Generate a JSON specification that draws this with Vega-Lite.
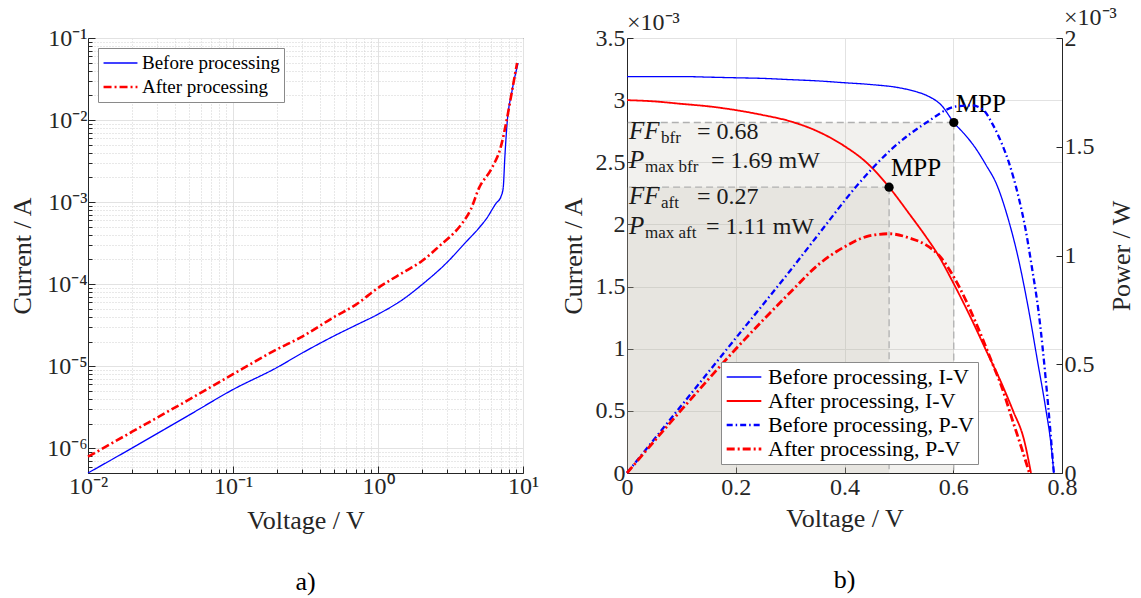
{
  "$schema": "https://vega.github.io/schema/vega-lite/v6.json",
  "background": "white",
  "padding": {"top": 5, "left": 9, "right": 2, "bottom": 2},
  "bounds": "flush",
  "spacing": 104,
  "resolve": {"scale": {"color": "independent", "strokeDash": "independent", "strokeWidth": "independent"}},
  "config": {
    "font": "Liberation Serif",
    "style": {
      "guide-label": {"font": "Liberation Serif"},
      "guide-title": {"font": "Liberation Serif", "fontWeight": "normal"},
      "group-title": {"font": "Liberation Serif", "fontWeight": "normal"}
    },
    "view": {"stroke": "#262626", "strokeWidth": 1},
    "axis": {
      "domainColor": "#262626", "tickColor": "#262626", "labelColor": "#262626", "titleColor": "#262626",
      "labelFont": "Liberation Serif", "titleFont": "Liberation Serif", "labelFontSize": 24, "titleFontSize": 26,
      "titleFontWeight": "normal", "gridColor": "#e2e2e2", "gridWidth": 1, "tickSize": -6, "labelPadding": 8,
      "labelOverlap": false, "labelFlush": false, "labelBound": false
    },
    "axisX": {"titlePadding": 6, "labelFont": "Liberation Serif", "titleFont": "Liberation Serif"},
    "axisY": {"labelFont": "Liberation Serif", "titleFont": "Liberation Serif"},
    "legend": {"labelFont": "Liberation Serif", "labelColor": "#000000", "fillColor": "white", "strokeColor": "#8a8a8a", "cornerRadius": 0, "symbolType": "stroke", "labelLimit": 400, "clipHeight": 22, "rowPadding": 2},
    "title": {"font": "Liberation Serif", "fontSize": 26, "fontWeight": "normal", "color": "#000000", "orient": "bottom", "anchor": "middle", "offset": 36}
  },
  "datasets": {
    "logiv": [
      {"series": "Before processing", "V": 0.01, "I": 5.0e-7},
      {"series": "Before processing", "V": 0.02, "I": 1.0e-6},
      {"series": "Before processing", "V": 0.05, "I": 2.55e-6},
      {"series": "Before processing", "V": 0.1, "I": 5.2e-6},
      {"series": "Before processing", "V": 0.2, "I": 9.6e-6},
      {"series": "Before processing", "V": 0.3, "I": 1.45e-5},
      {"series": "Before processing", "V": 0.5, "I": 2.35e-5},
      {"series": "Before processing", "V": 0.7, "I": 3.15e-5},
      {"series": "Before processing", "V": 1.0, "I": 4.3e-5},
      {"series": "Before processing", "V": 1.5, "I": 6.6e-5},
      {"series": "Before processing", "V": 2.0, "I": 9.8e-5},
      {"series": "Before processing", "V": 3.0, "I": 1.85e-4},
      {"series": "Before processing", "V": 4.0, "I": 3.2e-4},
      {"series": "Before processing", "V": 5.0, "I": 4.9e-4},
      {"series": "Before processing", "V": 5.6, "I": 6.3e-4},
      {"series": "Before processing", "V": 6.5, "I": 9.6e-4},
      {"series": "Before processing", "V": 7.05, "I": 1.17e-3},
      {"series": "Before processing", "V": 7.3, "I": 1.48e-3},
      {"series": "Before processing", "V": 7.5, "I": 3.6e-3},
      {"series": "Before processing", "V": 7.76, "I": 8.9e-3},
      {"series": "Before processing", "V": 8.4, "I": 2.26e-2},
      {"series": "Before processing", "V": 9.25, "I": 4.95e-2},
      {"series": "After processing", "V": 0.01, "I": 7.9e-7},
      {"series": "After processing", "V": 0.02, "I": 1.58e-6},
      {"series": "After processing", "V": 0.05, "I": 3.95e-6},
      {"series": "After processing", "V": 0.1, "I": 8.0e-6},
      {"series": "After processing", "V": 0.2, "I": 1.6e-5},
      {"series": "After processing", "V": 0.3, "I": 2.3e-5},
      {"series": "After processing", "V": 0.5, "I": 4.0e-5},
      {"series": "After processing", "V": 0.7, "I": 5.6e-5},
      {"series": "After processing", "V": 1.0, "I": 9.0e-5},
      {"series": "After processing", "V": 1.5, "I": 1.4e-4},
      {"series": "After processing", "V": 2.0, "I": 1.9e-4},
      {"series": "After processing", "V": 2.76, "I": 3.1e-4},
      {"series": "After processing", "V": 3.1, "I": 3.7e-4},
      {"series": "After processing", "V": 3.8, "I": 5.5e-4},
      {"series": "After processing", "V": 4.37, "I": 8.2e-4},
      {"series": "After processing", "V": 4.97, "I": 1.48e-3},
      {"series": "After processing", "V": 6.1, "I": 2.6e-3},
      {"series": "After processing", "V": 7.05, "I": 4.8e-3},
      {"series": "After processing", "V": 7.76, "I": 1.05e-2},
      {"series": "After processing", "V": 8.4, "I": 2.26e-2},
      {"series": "After processing", "V": 9.1, "I": 4.95e-2}
    ],
    "iv": [
      {"series": "Before processing, I-V", "V": 0, "I": 3.19},
      {"series": "Before processing, I-V", "V": 0.05, "I": 3.19},
      {"series": "Before processing, I-V", "V": 0.1, "I": 3.19},
      {"series": "Before processing, I-V", "V": 0.15, "I": 3.185},
      {"series": "Before processing, I-V", "V": 0.2, "I": 3.18},
      {"series": "Before processing, I-V", "V": 0.25, "I": 3.175},
      {"series": "Before processing, I-V", "V": 0.3, "I": 3.165},
      {"series": "Before processing, I-V", "V": 0.35, "I": 3.155},
      {"series": "Before processing, I-V", "V": 0.4, "I": 3.14},
      {"series": "Before processing, I-V", "V": 0.45, "I": 3.125},
      {"series": "Before processing, I-V", "V": 0.5, "I": 3.1},
      {"series": "Before processing, I-V", "V": 0.53, "I": 3.07},
      {"series": "Before processing, I-V", "V": 0.55, "I": 3.04},
      {"series": "Before processing, I-V", "V": 0.58, "I": 2.95},
      {"series": "Before processing, I-V", "V": 0.601, "I": 2.82},
      {"series": "Before processing, I-V", "V": 0.62, "I": 2.73},
      {"series": "Before processing, I-V", "V": 0.64, "I": 2.62},
      {"series": "Before processing, I-V", "V": 0.66, "I": 2.48},
      {"series": "Before processing, I-V", "V": 0.68, "I": 2.32},
      {"series": "Before processing, I-V", "V": 0.7, "I": 2.06},
      {"series": "Before processing, I-V", "V": 0.72, "I": 1.72},
      {"series": "Before processing, I-V", "V": 0.74, "I": 1.28},
      {"series": "Before processing, I-V", "V": 0.755, "I": 0.9},
      {"series": "Before processing, I-V", "V": 0.77, "I": 0.52},
      {"series": "Before processing, I-V", "V": 0.78, "I": 0.22},
      {"series": "Before processing, I-V", "V": 0.785, "I": 0},
      {"series": "After processing, I-V", "V": 0, "I": 3.0},
      {"series": "After processing, I-V", "V": 0.05, "I": 2.99},
      {"series": "After processing, I-V", "V": 0.1, "I": 2.97},
      {"series": "After processing, I-V", "V": 0.15, "I": 2.95},
      {"series": "After processing, I-V", "V": 0.2, "I": 2.92},
      {"series": "After processing, I-V", "V": 0.25, "I": 2.88},
      {"series": "After processing, I-V", "V": 0.3, "I": 2.83},
      {"series": "After processing, I-V", "V": 0.35, "I": 2.75},
      {"series": "After processing, I-V", "V": 0.4, "I": 2.63},
      {"series": "After processing, I-V", "V": 0.44, "I": 2.5},
      {"series": "After processing, I-V", "V": 0.482, "I": 2.3},
      {"series": "After processing, I-V", "V": 0.52, "I": 2.08},
      {"series": "After processing, I-V", "V": 0.55, "I": 1.9},
      {"series": "After processing, I-V", "V": 0.57, "I": 1.77},
      {"series": "After processing, I-V", "V": 0.6, "I": 1.53},
      {"series": "After processing, I-V", "V": 0.63, "I": 1.27},
      {"series": "After processing, I-V", "V": 0.66, "I": 0.99},
      {"series": "After processing, I-V", "V": 0.69, "I": 0.71},
      {"series": "After processing, I-V", "V": 0.71, "I": 0.5},
      {"series": "After processing, I-V", "V": 0.73, "I": 0.27},
      {"series": "After processing, I-V", "V": 0.743, "I": 0}
    ],
    "pv": [
      {"series": "Before processing, P-V", "V": 0, "P": 0},
      {"series": "Before processing, P-V", "V": 0.1, "P": 0.31},
      {"series": "Before processing, P-V", "V": 0.2, "P": 0.62},
      {"series": "Before processing, P-V", "V": 0.3, "P": 0.93},
      {"series": "Before processing, P-V", "V": 0.353, "P": 1.1},
      {"series": "Before processing, P-V", "V": 0.426, "P": 1.33},
      {"series": "Before processing, P-V", "V": 0.487, "P": 1.49},
      {"series": "Before processing, P-V", "V": 0.55, "P": 1.61},
      {"series": "Before processing, P-V", "V": 0.605, "P": 1.685},
      {"series": "Before processing, P-V", "V": 0.634, "P": 1.69},
      {"series": "Before processing, P-V", "V": 0.655, "P": 1.67},
      {"series": "Before processing, P-V", "V": 0.671, "P": 1.61},
      {"series": "Before processing, P-V", "V": 0.69, "P": 1.51},
      {"series": "Before processing, P-V", "V": 0.702, "P": 1.43},
      {"series": "Before processing, P-V", "V": 0.72, "P": 1.27},
      {"series": "Before processing, P-V", "V": 0.733, "P": 1.12},
      {"series": "Before processing, P-V", "V": 0.745, "P": 0.94},
      {"series": "Before processing, P-V", "V": 0.757, "P": 0.74},
      {"series": "Before processing, P-V", "V": 0.772, "P": 0.38},
      {"series": "Before processing, P-V", "V": 0.785, "P": 0},
      {"series": "After processing, P-V", "V": 0, "P": 0},
      {"series": "After processing, P-V", "V": 0.1, "P": 0.29},
      {"series": "After processing, P-V", "V": 0.2, "P": 0.57},
      {"series": "After processing, P-V", "V": 0.3, "P": 0.83},
      {"series": "After processing, P-V", "V": 0.353, "P": 0.96},
      {"series": "After processing, P-V", "V": 0.4, "P": 1.04},
      {"series": "After processing, P-V", "V": 0.445, "P": 1.09},
      {"series": "After processing, P-V", "V": 0.482, "P": 1.1},
      {"series": "After processing, P-V", "V": 0.52, "P": 1.08},
      {"series": "After processing, P-V", "V": 0.549, "P": 1.05},
      {"series": "After processing, P-V", "V": 0.574, "P": 1.0},
      {"series": "After processing, P-V", "V": 0.61, "P": 0.86},
      {"series": "After processing, P-V", "V": 0.64, "P": 0.7},
      {"series": "After processing, P-V", "V": 0.671, "P": 0.51},
      {"series": "After processing, P-V", "V": 0.69, "P": 0.39},
      {"series": "After processing, P-V", "V": 0.708, "P": 0.25},
      {"series": "After processing, P-V", "V": 0.725, "P": 0.12},
      {"series": "After processing, P-V", "V": 0.74, "P": 0}
    ],
    "mpp": [
      {"V": 0.601, "I": 2.82},
      {"V": 0.482, "I": 2.3}
    ],
    "notes": [
      {"V": 0, "I": 2.69, "main": "FF", "sub": "bfr", "rest": "= 0.68", "kind": "FF"},
      {"V": 0, "I": 2.455, "main": "P", "sub": "max bfr", "rest": "= 1.69 mW", "kind": "P1"},
      {"V": 0, "I": 2.165, "main": "FF", "sub": "aft", "rest": "= 0.27", "kind": "FF"},
      {"V": 0, "I": 1.925, "main": "P", "sub": "max aft", "rest": "= 1.11 mW", "kind": "P2"}
    ],
    "cornerI": [{"V": 0, "I": 3.5, "label": "×10⁻³"}],
    "cornerP": [{"V": 0.8, "P": 2, "label": "×10⁻³"}]
  },
  "hconcat": [
    {
      "width": 435,
      "height": 435,
      "title": {"text": "a)"},
      "data": {"name": "logiv"},
      "mark": {"type": "line", "interpolate": "monotone"},
      "encoding": {
        "x": {
          "field": "V", "type": "quantitative",
          "scale": {"type": "log", "domain": [0.01, 10], "nice": false},
          "axis": {
            "title": "Voltage / V",
            "values": [0.01,0.02,0.03,0.04,0.05,0.06,0.07,0.08,0.09,0.1,0.2,0.3,0.4,0.5,0.6,0.7,0.8,0.9,1,2,3,4,5,6,7,8,9,10],
            "labelExpr": "abs(log(datum.value)/LN10 - round(log(datum.value)/LN10)) < 0.001 ? '10' + (round(log(datum.value)/LN10) < 0 ? '⁻' : '') + ['⁰','¹','²','³','⁴','⁵','⁶','⁷','⁸','⁹'][abs(round(log(datum.value)/LN10))] : ''",
            "grid": true,
            "gridDash": {"condition": {"test": "abs(log(datum.value)/LN10 - round(log(datum.value)/LN10)) < 0.001", "value": []}, "value": [1, 2]},
            "gridColor": {"condition": {"test": "abs(log(datum.value)/LN10 - round(log(datum.value)/LN10)) < 0.001", "value": "#e2e2e2"}, "value": "#d0d0d0"},
            "tickSize": {"condition": {"test": "abs(log(datum.value)/LN10 - round(log(datum.value)/LN10)) < 0.001", "value": -7}, "value": -4}
          }
        },
        "y": {
          "field": "I", "type": "quantitative",
          "scale": {"type": "log", "domain": [5e-7, 0.1], "nice": false},
          "axis": {
            "title": "Current / A",
            "titlePadding": 11,
            "values": [5e-7,6e-7,7e-7,8e-7,9e-7,1e-6,2e-6,3e-6,4e-6,5e-6,6e-6,7e-6,8e-6,9e-6,1e-5,2e-5,3e-5,4e-5,5e-5,6e-5,7e-5,8e-5,9e-5,1e-4,2e-4,3e-4,4e-4,5e-4,6e-4,7e-4,8e-4,9e-4,1e-3,2e-3,3e-3,4e-3,5e-3,6e-3,7e-3,8e-3,9e-3,1e-2,2e-2,3e-2,4e-2,5e-2,6e-2,7e-2,8e-2,9e-2,0.1],
            "labelExpr": "abs(log(datum.value)/LN10 - round(log(datum.value)/LN10)) < 0.001 ? '10' + (round(log(datum.value)/LN10) < 0 ? '⁻' : '') + ['⁰','¹','²','³','⁴','⁵','⁶','⁷','⁸','⁹'][abs(round(log(datum.value)/LN10))] : ''",
            "grid": true,
            "gridDash": {"condition": {"test": "abs(log(datum.value)/LN10 - round(log(datum.value)/LN10)) < 0.001", "value": []}, "value": [1, 2]},
            "gridColor": {"condition": {"test": "abs(log(datum.value)/LN10 - round(log(datum.value)/LN10)) < 0.001", "value": "#e2e2e2"}, "value": "#d0d0d0"},
            "tickSize": {"condition": {"test": "abs(log(datum.value)/LN10 - round(log(datum.value)/LN10)) < 0.001", "value": -7}, "value": -4}
          }
        },
        "color": {
          "field": "series", "type": "nominal",
          "scale": {"domain": ["Before processing", "After processing"], "range": ["#0000ff", "#ff0000"]},
          "legend": {"title": null, "orient": "top-left", "offset": 10, "padding": 4, "symbolSize": 1150, "labelFontSize": 19, "labelOffset": 3}
        },
        "strokeDash": {
          "field": "series", "type": "nominal",
          "scale": {"domain": ["Before processing", "After processing"], "range": [[1, 0], [8, 3, 2, 3]]}
        },
        "strokeWidth": {
          "field": "series", "type": "nominal",
          "scale": {"domain": ["Before processing", "After processing"], "range": [1.3, 2.6]}
        }
      }
    },
    {
      "width": 435,
      "height": 435,
      "title": {"text": "b)"},
      "layer": [
        {
          "encoding": {
            "x": {"field": "V", "type": "quantitative", "scale": {"domain": [0, 0.8], "nice": false},
                  "axis": {"title": "Voltage / V", "values": [0, 0.2, 0.4, 0.6, 0.8], "format": "~g", "grid": true}},
            "y": {"field": "I", "type": "quantitative", "scale": {"domain": [0, 3.5], "nice": false},
                  "axis": {"title": "Current / A", "titlePadding": 9, "orient": "left", "values": [0, 0.5, 1, 1.5, 2, 2.5, 3, 3.5], "format": "~g", "grid": true}}
          },
          "layer": [
            {"data": {"name": "mpp"}, "mark": {"type": "rect", "fill": "#b8b0a0", "opacity": 0.18}, "encoding": {"x2": {"datum": 0}, "y2": {"datum": 0}}},
            {"data": {"name": "mpp"}, "mark": {"type": "rule", "stroke": "#b0b0b0", "strokeDash": [7, 4], "strokeWidth": 1.3}, "encoding": {"x2": {"datum": 0}}},
            {"data": {"name": "mpp"}, "mark": {"type": "rule", "stroke": "#b0b0b0", "strokeDash": [7, 4], "strokeWidth": 1.3}, "encoding": {"y2": {"datum": 0}}},
            {
              "data": {"name": "iv"},
              "mark": {"type": "line", "interpolate": "monotone"},
              "encoding": {
                "color": {"field": "series", "type": "nominal",
                  "scale": {"domain": ["Before processing, I-V", "After processing, I-V", "Before processing, P-V", "After processing, P-V"], "range": ["#0000ff", "#ff0000", "#0000ff", "#ff0000"]},
                  "legend": {"title": null, "orient": "none", "legendX": 94, "legendY": 324, "padding": 4, "symbolSize": 1200, "labelFontSize": 22, "labelOffset": 5}},
                "strokeDash": {"field": "series", "type": "nominal",
                  "scale": {"domain": ["Before processing, I-V", "After processing, I-V", "Before processing, P-V", "After processing, P-V"], "range": [[1, 0], [1, 0], [6, 3, 1.5, 3], [8, 3, 2, 3]]}},
                "strokeWidth": {"field": "series", "type": "nominal",
                  "scale": {"domain": ["Before processing, I-V", "After processing, I-V", "Before processing, P-V", "After processing, P-V"], "range": [1.3, 2.8, 1.2, 2.8]}}
              }
            },
            {"data": {"name": "mpp"}, "mark": {"type": "point", "filled": true, "color": "#000000", "opacity": 1, "size": 85}},
            {"data": {"name": "mpp"}, "mark": {"type": "text", "text": "MPP", "fontSize": 25, "align": "left", "baseline": "alphabetic", "dx": 2, "dy": -11, "color": "#000000"}},
            {"data": {"name": "notes"}, "mark": {"type": "text", "fontSize": 25, "fontStyle": "italic", "align": "left", "baseline": "alphabetic", "dx": 2, "color": "#1a1a1a"}, "encoding": {"text": {"field": "main"}}},
            {"data": {"name": "notes"}, "transform": [{"filter": "datum.kind == 'FF'"}], "mark": {"type": "text", "fontSize": 17, "align": "left", "baseline": "alphabetic", "dx": 34, "dy": 4, "color": "#1a1a1a"}, "encoding": {"text": {"field": "sub"}}},
            {"data": {"name": "notes"}, "transform": [{"filter": "datum.kind != 'FF'"}], "mark": {"type": "text", "fontSize": 17, "align": "left", "baseline": "alphabetic", "dx": 18, "dy": 4, "color": "#1a1a1a"}, "encoding": {"text": {"field": "sub"}}},
            {"data": {"name": "notes"}, "transform": [{"filter": "datum.kind == 'FF'"}], "mark": {"type": "text", "fontSize": 24, "align": "left", "baseline": "alphabetic", "dx": 70, "color": "#1a1a1a"}, "encoding": {"text": {"field": "rest"}}},
            {"data": {"name": "notes"}, "transform": [{"filter": "datum.kind == 'P1'"}], "mark": {"type": "text", "fontSize": 24, "align": "left", "baseline": "alphabetic", "dx": 84, "color": "#1a1a1a"}, "encoding": {"text": {"field": "rest"}}},
            {"data": {"name": "notes"}, "transform": [{"filter": "datum.kind == 'P2'"}], "mark": {"type": "text", "fontSize": 24, "align": "left", "baseline": "alphabetic", "dx": 79, "color": "#1a1a1a"}, "encoding": {"text": {"field": "rest"}}},
            {"data": {"name": "cornerI"}, "mark": {"type": "text", "fontSize": 24, "align": "left", "baseline": "bottom", "dy": -3, "color": "#262626"}, "encoding": {"text": {"field": "label"}}}
          ]
        },
        {
          "encoding": {
            "x": {"field": "V", "type": "quantitative", "scale": {"domain": [0, 0.8], "nice": false},
                  "axis": {"title": "Voltage / V", "values": [0, 0.2, 0.4, 0.6, 0.8], "format": "~g", "grid": true}},
            "y": {"field": "P", "type": "quantitative", "scale": {"domain": [0, 2], "nice": false},
                  "axis": {"title": "Power / W", "orient": "right", "values": [0, 0.5, 1, 1.5, 2], "format": "~g", "grid": false, "titleAngle": 270, "titleBaseline": "top", "titlePadding": 14}}
          },
          "layer": [
            {
              "data": {"name": "pv"},
              "mark": {"type": "line", "interpolate": "monotone"},
              "encoding": {
                "color": {"field": "series", "type": "nominal",
                  "scale": {"domain": ["Before processing, I-V", "After processing, I-V", "Before processing, P-V", "After processing, P-V"], "range": ["#0000ff", "#ff0000", "#0000ff", "#ff0000"]},
                  "legend": {"title": null, "orient": "none", "legendX": 94, "legendY": 324, "padding": 4, "symbolSize": 1200, "labelFontSize": 22, "labelOffset": 5}},
                "strokeDash": {"field": "series", "type": "nominal",
                  "scale": {"domain": ["Before processing, I-V", "After processing, I-V", "Before processing, P-V", "After processing, P-V"], "range": [[1, 0], [1, 0], [6, 3, 1.5, 3], [8, 3, 2, 3]]}},
                "strokeWidth": {"field": "series", "type": "nominal",
                  "scale": {"domain": ["Before processing, I-V", "After processing, I-V", "Before processing, P-V", "After processing, P-V"], "range": [1.3, 2.8, 1.2, 2.8]}}
              }
            },
            {"data": {"name": "cornerP"}, "mark": {"type": "text", "fontSize": 24, "align": "left", "baseline": "bottom", "dx": 2, "dy": -8, "color": "#262626"}, "encoding": {"text": {"field": "label"}}}
          ]
        }
      ],
      "resolve": {"scale": {"y": "independent"}}
    }
  ]
}
